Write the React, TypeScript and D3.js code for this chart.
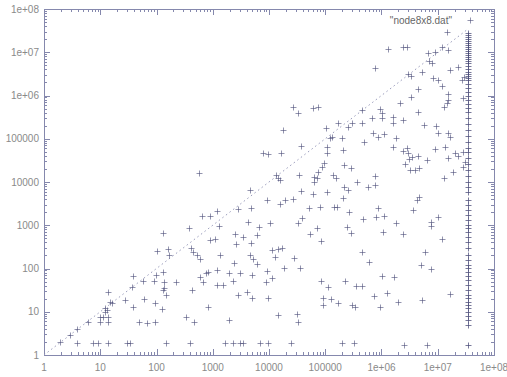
import React, { useRef, useEffect } from 'react';
import * as d3 from 'd3';

// scatter points, [x, y]
const points: [number, number][] = [
  [4590, 6530], [1190, 2130], [2810, 2380], [644, 1640], [893, 1640], [4790, 2510],
  [131, 662], [378, 864], [1290, 961], [6640, 912], [2490, 628], [3450, 535],
  [6120, 596], [893, 456], [1100, 481], [4240, 1190], [2590, 368], [4790, 389],
  [160, 282], [102, 254], [410, 298], [446, 240], [525, 205], [593, 166],
  [167, 205], [1350, 205], [4590, 205], [5200, 166], [6120, 127], [2390, 134],
  [38, 67], [98, 71], [90, 51], [131, 83], [58, 51], [136, 49], [222, 49],
  [593, 64], [671, 49], [759, 79], [824, 83], [1190, 92], [1190, 42], [1520, 42],
  [1950, 79], [2290, 51], [3050, 79], [4990, 71], [2810, 24], [4060, 29], [4990, 21],
  [428, 32], [136, 35], [148, 24], [37, 37], [14, 29], [15, 17], [16, 16],
  [12, 12], [13, 11], [12, 9.9], [28, 19], [60, 20], [94, 16], [131, 32],
  [125, 11.6], [38, 13], [10, 7.6], [11, 7.6], [14, 7.6], [10, 5.8], [14, 5.8],
  [6.1, 5.8], [3.9, 4.0], [2.9, 2.9], [1.9, 2.0], [49, 5.8], [68, 5.5], [94, 5.8],
  [334, 7.6], [464, 5.8], [824, 13], [1950, 6.4],
  [3.9, 1.9], [7.4, 1.9], [9.1, 1.9], [14, 1.9], [30, 1.9], [34, 1.9], [148, 1.9],
  [394, 1.9], [1650, 1.9], [2290, 1.9], [3050, 1.9], [3450, 1.9], [6920, 1.9],
  [9210, 3840], [570, 16100], [7820, 46800],
  [2.41e6, 1.32e7], [2.84e6, 1.32e7], [1.31e6, 1.19e7], [6.71e6, 9.6e6], [8.94e6, 1.01e7],
  [1.19e7, 1.32e7], [1.52e7, 1.13e7], [6.99e6, 6.28e6], [7.91e6, 5.64e6], [766000, 4.32e6],
  [2.96e6, 3.14e6], [3.34e6, 2.82e6], [5.25e6, 3.49e6], [8.24e6, 2.54e6], [1.01e7, 2.28e6],
  [1.65e7, 3.88e6], [2.29e7, 4.56e6], [1.19e7, 1.66e6], [2.7e7, 2.28e6], [2.93e7, 2.68e6],
  [4.46e6, 1.41e6], [3.34e6, 923000], [1.52e7, 1.08e6], [1.52e7, 787000], [2.81e7, 875000],
  [1.29e7, 542000], [26700, 542000], [32800, 394000], [60500, 514000], [74300, 542000],
  [450000, 462000], [940000, 487000], [1.02e6, 394000], [678000, 302000], [1.02e6, 302000],
  [1.6e6, 318000], [2.41e6, 271000], [1.6e6, 231000], [5.7e6, 208000], [9.31e6, 197000],
  [1.01e7, 136000], [1.52e7, 136000], [1.65e7, 110000], [299000, 231000], [254000, 187000],
  [169000, 231000], [103000, 177000], [132000, 110000], [107000, 64400], [706000, 136000],
  [1.11e6, 129000], [867000, 110000], [1.6e6, 64400], [2.41e6, 52100], [2.96e6, 46800],
  [2.84e6, 61100], [3.48e6, 37800], [6.44e6, 32300], [8.94e6, 57900], [1.35e7, 64400],
  [2.03e7, 46800], [2.29e7, 39900], [2.81e7, 49400], [3.05e7, 29000], [1.87e7, 17000],
  [215000, 24700], [287000, 21100], [95100, 27500], [87500, 22200], [74300, 17000],
  [63100, 13100], [37000, 67900], [489000, 84100], [766000, 13800], [34100, 14500],
  [14500, 12400], [2.62e6, 26100], [3.21e6, 18900], [4.64e6, 21100], [199000, 104000],
  [16300, 46800], [9600, 44400], [137000, 14500], [2.13e6, 670000], [1.46e7, 670000],
  [4.46e6, 415000], [450000, 231000], [121000, 104000], [1.81e6, 104000], [207000, 54900],
  [4.46e6, 39900], [3.08e6, 34000], [1.52e7, 35900], [2.81e7, 22200], [107000, 46800],
  [3.94e6, 18900], [1.29e7, 12400], [155000, 12400], [17700, 159000], [13300, 14500],
  [15700, 11100], [1.46e7, 2.94e7],
  [71300, 12400], [63100, 10000], [215000, 7660], [254000, 6530], [575000, 7660],
  [766000, 8530], [367000, 10000], [37000, 6190], [107000, 5870], [60500, 5280],
  [26700, 4050], [19200, 3840], [15700, 3100], [207000, 4270], [51400, 2510],
  [80700, 2640], [143000, 2640], [162000, 2640], [264000, 2020], [867000, 2510],
  [1.11e6, 1640], [799000, 1550], [3.63e6, 2250], [4.64e6, 4500], [4.28e6, 3840],
  [1.01e7, 1550], [38600, 1470], [469000, 1390], [10400, 1130], [32800, 1130],
  [71300, 864], [244000, 912], [1.81e6, 1130], [7.59e6, 1190], [7.59e6, 961],
  [53600, 628], [84000, 432], [287000, 662], [1.06e6, 698], [2.41e6, 628], [1.19e7, 481],
  [11300, 268], [14500, 282], [17000, 298], [12800, 185], [27800, 175], [450000, 240],
  [600000, 141], [5.93e6, 240], [5.04e6, 120], [7.59e6, 97], [9210, 88], [18500, 103],
  [35600, 103], [11300, 60], [1.02e6, 67], [1.67e6, 64], [8850, 49], [84000, 51],
  [112000, 37], [224000, 51], [352000, 39], [450000, 39], [9600, 21], [91200, 21],
  [91200, 14], [127000, 20], [169000, 16], [299000, 14], [338000, 13], [736000, 23],
  [1.25e6, 27], [940000, 13], [1.96e6, 17], [5.25e6, 19], [1.65e7, 26], [14500, 8.4],
  [31500, 8.9], [32800, 5.8],
  [9600, 1.9], [24600, 1.9], [199000, 1.9], [324000, 1.9], [2.51e6, 1.7], [6.44e6, 1.7],
];

// the dense vertical stack near x = 3.5e7
const columnX = 3.45e7;
const columnY = [
  2.8e7, 2.5e7, 2.25e7, 2.0e7, 1.8e7, 1.64e7, 1.47e7, 1.32e7, 1.19e7, 1.07e7, 9.6e6,
  8.6e6, 7.8e6, 7.0e6, 6.3e6, 5.6e6, 4.8e6, 4.1e6, 3.5e6, 3.1e6, 2.8e6, 2.5e6, 2.3e6,
  1.85e6, 1.49e6, 1.2e6, 973000, 787000, 636000, 514000, 415000, 302000, 219000,
  159000, 116000, 84100, 61100, 49400, 35900, 26100, 18900, 13800, 10000, 7660, 5870,
  3840, 2940, 2250, 1730, 1320, 1010, 864, 698, 535, 410, 298, 205, 157, 120, 103, 83,
  67, 54, 42, 32, 24, 21, 17, 14, 12, 9.9, 8.0, 6.4, 4.9, 1.7,
];

// dotted y = x reference line
const diagonal: [number, number][] = [[1, 1], [3.45e7, 3.45e7]];

const xTickLabels = ['1', '10', '100', '1000', '10000', '100000', '1e+06', '1e+07', '1e+08'];
const yTickLabels = ['1', '10', '100', '1000', '10000', '100000', '1e+06', '1e+07', '1e+08'];
const legendLabel = '"node8x8.dat"';

const App = () => {
  const svgRef = useRef<SVGSVGElement>(null);

  useEffect(() => {
    const el = svgRef.current;
    if (!el) return;
    d3.select(el).selectAll('*').remove();

    const width = 507;
    const height = 377;
    const left = 44, right = 494, top = 9, bottom = 355;

    const svg = d3.select(el).attr('width', width).attr('height', height);

    const x = d3.scaleLog().domain([1, 1e8]).range([left, right]);
    const y = d3.scaleLog().domain([1, 1e8]).range([bottom, top]);

    const axisColor = '#8588ad';
    const textColor = '#8a8a8a';
    const markColor = '#4b4c78';

    svg.append('rect').attr('width', width).attr('height', height).attr('fill', '#fff');

    // ticks, mirrored on all four sides, pointing inward
    const ticks = x.ticks();
    const g = svg.append('g').attr('stroke', axisColor).attr('stroke-width', 1);
    ticks.forEach(t => {
      const major = Math.abs(Math.log10(t) - Math.round(Math.log10(t))) < 1e-9;
      const len = major ? 6 : 3;
      const px = Math.round(x(t)) + 0.5;
      const py = Math.round(y(t)) + 0.5;
      g.append('line').attr('x1', px).attr('x2', px).attr('y1', bottom).attr('y2', bottom - len);
      g.append('line').attr('x1', px).attr('x2', px).attr('y1', top).attr('y2', top + len);
      g.append('line').attr('y1', py).attr('y2', py).attr('x1', left).attr('x2', left + len);
      g.append('line').attr('y1', py).attr('y2', py).attr('x1', right).attr('x2', right - len);
    });

    svg.append('rect')
      .attr('x', left + 0.5).attr('y', top + 0.5)
      .attr('width', right - left).attr('height', bottom - top)
      .attr('fill', 'none').attr('stroke', axisColor);

    const decades = d3.range(0, 9).map(k => Math.pow(10, k));

    svg.append('g')
      .selectAll('text')
      .data(decades)
      .join('text')
      .attr('x', d => x(d))
      .attr('y', 371)
      .attr('text-anchor', 'middle')
      .attr('font-family', 'Liberation Sans, Arial, sans-serif')
      .attr('font-size', 10)
      .attr('fill', textColor)
      .text((d, i) => xTickLabels[i]);

    svg.append('g')
      .selectAll('text')
      .data(decades)
      .join('text')
      .attr('x', 39)
      .attr('y', d => y(d) + 3.5)
      .attr('text-anchor', 'end')
      .attr('font-family', 'Liberation Sans, Arial, sans-serif')
      .attr('font-size', 10)
      .attr('fill', textColor)
      .text((d, i) => yTickLabels[i]);

    // dotted diagonal
    svg.append('path')
      .datum(diagonal)
      .attr('d', d3.line<[number, number]>().x(d => x(d[0])).y(d => y(d[1])))
      .attr('fill', 'none')
      .attr('stroke', '#9a9cbc')
      .attr('stroke-width', 1)
      .attr('stroke-dasharray', '1.5,3');

    const plus = (sel: any, cx: number, cy: number, op: number) => {
      sel.append('path')
        .attr('d', `M${cx - 3},${cy}H${cx + 3}M${cx},${cy - 3}V${cy + 3}`)
        .attr('stroke', markColor)
        .attr('stroke-width', 1)
        .attr('stroke-opacity', op)
        .attr('fill', 'none');
    };

    const pg = svg.append('g');
    points.forEach(d => plus(pg, Math.round(x(d[0])) + 0.5, Math.round(y(d[1])) + 0.5, 0.6));
    columnY.forEach(v => plus(pg, Math.round(x(columnX)) + 0.5, Math.round(y(v)) + 0.5, 0.75));

    // legend
    svg.append('text')
      .attr('x', 452)
      .attr('y', 24)
      .attr('text-anchor', 'end')
      .attr('font-family', 'Liberation Sans, Arial, sans-serif')
      .attr('font-size', 10)
      .attr('fill', '#666')
      .text(legendLabel);
    plus(svg, 470.5, 20.5, 0.6);
  }, []);

  return (
    <div style={{ position: 'fixed', left: 0, top: 0, width: 507, height: 377, background: '#fff' }}>
      <svg ref={svgRef}></svg>
    </div>
  );
};

export default App;
